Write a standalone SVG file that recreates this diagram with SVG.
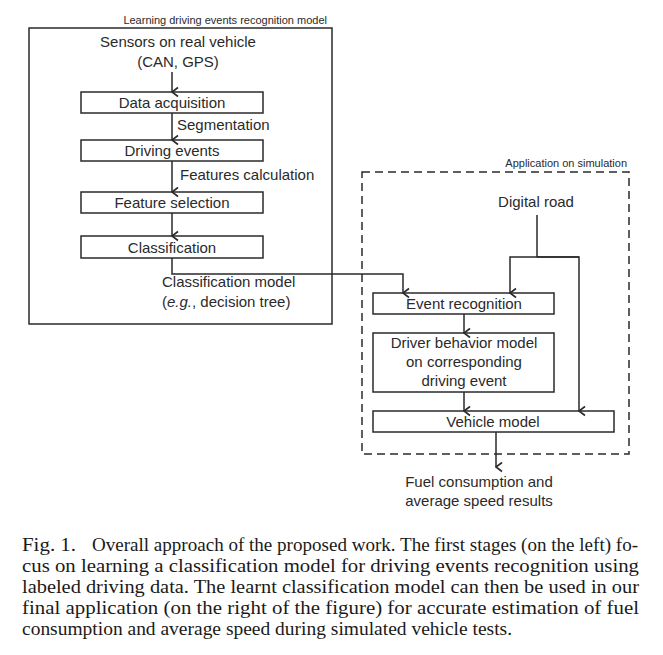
<svg xmlns="http://www.w3.org/2000/svg" width="663" height="655" viewBox="0 0 663 655">
<defs>
<marker id="arr" viewBox="0 0 12 12" refX="6" refY="11" markerWidth="12" markerHeight="12" markerUnits="userSpaceOnUse" orient="auto-start-reverse">
<path d="M1.5,5 L6,11 L10.5,5" fill="none" stroke="#2a2a2a" stroke-width="1.6"/>
</marker>
<style>
.box{fill:#fff;stroke:#2a2a2a;stroke-width:1.5}
.frame{fill:none;stroke:#2a2a2a;stroke-width:1.5}
.dash{fill:none;stroke:#2a2a2a;stroke-width:1.5;stroke-dasharray:8 5}
.t{font-family:"Liberation Sans",Arial,sans-serif;font-size:15px;fill:#2a2a2a;text-anchor:middle}
.tl{font-family:"Liberation Sans",Arial,sans-serif;font-size:15px;fill:#2a2a2a}
.s{font-family:"Liberation Sans",Arial,sans-serif;font-size:11px;fill:#2a2a2a;text-anchor:end}
.c{font-family:"Liberation Serif","Times New Roman",serif;font-size:18px;fill:#1a1a1a}
.ln{fill:none;stroke:#2a2a2a;stroke-width:1.5}
.ar{fill:none;stroke:#2a2a2a;stroke-width:1.5;marker-end:url(#arr)}
</style>
</defs>
<g id="learning-frame">
<rect class="frame" x="29" y="28" width="303" height="296"/>
<text class="s" x="327" y="24">Learning driving events recognition model</text>
</g>
<g id="application-frame">
<rect class="dash" x="362" y="172" width="267" height="282"/>
<text class="s" x="627" y="167">Application on simulation</text>
</g>
<g id="sensors">
<text class="t" x="178" y="47">Sensors on real vehicle</text>
<text class="t" x="178" y="67">(CAN, GPS)</text>
</g>
<g id="data-acquisition">
<rect class="box" x="81" y="92" width="182" height="21"/>
<text class="t" x="172" y="108">Data acquisition</text>
</g>
<g id="driving-events">
<rect class="box" x="81" y="140" width="182" height="21"/>
<text class="t" x="172" y="156">Driving events</text>
</g>
<g id="feature-selection">
<rect class="box" x="81" y="192" width="182" height="21"/>
<text class="t" x="172" y="208">Feature selection</text>
</g>
<g id="classification">
<rect class="box" x="81" y="236" width="182" height="22"/>
<text class="t" x="172" y="253">Classification</text>
</g>
<g id="classification-model">
<text class="tl" x="162" y="287">Classification model</text>
<text class="tl" x="162" y="307">(<tspan font-style="italic">e.g.</tspan>, decision tree)</text>
</g>
<g id="digital-road">
<text class="t" x="536" y="207">Digital road</text>
</g>
<g id="event-recognition">
<rect class="box" x="373" y="293" width="181" height="21"/>
<text class="t" x="464" y="309">Event recognition</text>
</g>
<g id="driver-behavior">
<rect class="box" x="373" y="333" width="181" height="59"/>
<text class="t" x="464" y="348">Driver behavior model</text>
<text class="t" x="464" y="367">on corresponding</text>
<text class="t" x="464" y="386">driving event</text>
</g>
<g id="vehicle-model">
<rect class="box" x="373" y="411" width="241" height="21"/>
<text class="t" x="493" y="427">Vehicle model</text>
</g>
<g id="results">
<text class="t" x="479" y="487">Fuel consumption and</text>
<text class="t" x="479" y="506">average speed results</text>
</g>
<g id="connectors">
<line class="ar" x1="172" y1="72" x2="172" y2="92"/>
<line class="ar" x1="172" y1="113" x2="172" y2="140"/>
<text class="tl" x="177" y="130">Segmentation</text>
<line class="ar" x1="172" y1="161" x2="172" y2="192"/>
<text class="tl" x="180" y="180">Features calculation</text>
<line class="ar" x1="172" y1="213" x2="172" y2="236"/>
<polyline class="ar" points="172,258 172,274 403,274 403,293"/>
<line class="ln" x1="537" y1="215" x2="537" y2="257"/>
<polyline class="ar" points="579,257 510,257 510,293"/>
<polyline class="ar" points="537,257 579,257 579,411"/>
<line class="ar" x1="464" y1="314" x2="464" y2="333"/>
<line class="ar" x1="464" y1="392" x2="464" y2="411"/>
<line class="ar" x1="496" y1="432" x2="496" y2="467"/>
</g>
<g id="caption">
<text class="c" x="22" y="551" textLength="54" lengthAdjust="spacingAndGlyphs">Fig. 1.</text>
<text class="c" x="92" y="551" textLength="546" lengthAdjust="spacingAndGlyphs">Overall approach of the proposed work. The first stages (on the left) fo-</text>
<text class="c" x="22" y="572" textLength="617" lengthAdjust="spacingAndGlyphs">cus on learning a classification model for driving events recognition using</text>
<text class="c" x="22" y="593" textLength="617" lengthAdjust="spacingAndGlyphs">labeled driving data. The learnt classification model can then be used in our</text>
<text class="c" x="22" y="614" textLength="617" lengthAdjust="spacingAndGlyphs">final application (on the right of the figure) for accurate estimation of fuel</text>
<text class="c" x="22" y="635" textLength="490" lengthAdjust="spacingAndGlyphs">consumption and average speed during simulated vehicle tests.</text>
</g>
</svg>
